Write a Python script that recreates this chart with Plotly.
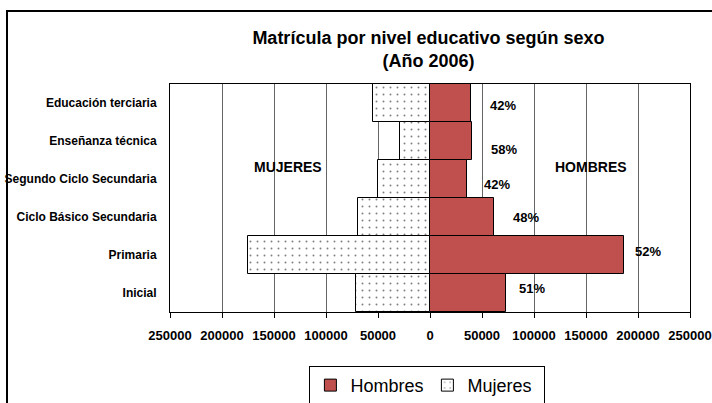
import plotly.graph_objects as go

# ---- data ----
categories = ["Educación terciaria", "Enseñanza técnica", "Segundo Ciclo Secundaria",
              "Ciclo Básico Secundaria", "Primaria", "Inicial"]
hombres = [39000, 40000, 36000, 62000, 187000, 73500]
mujeres = [55000, 29000, 50000, 69000, 175000, 71000]
pct_labels = ["42%", "58%", "42%", "48%", "52%", "51%"]
tick_values = [-250000, -200000, -150000, -100000, -50000, 0, 50000, 100000, 150000, 200000, 250000]
tick_labels = ["250000", "200000", "150000", "100000", "50000", "0",
               "50000", "100000", "150000", "200000", "250000"]

# label styling offsets (pixels)
pct_xshift = [17, 17, 15, 17, 9, 11]
pct_yshift = [-2, -8, -5, 0, 4, 5]

FONT = "Liberation Sans, Arial, sans-serif"
RED = "#C0504D"

fig = go.Figure()
fig.add_trace(go.Bar(
    y=categories, x=hombres, orientation="h", name="Hombres",
    marker=dict(color=RED, line=dict(color="black", width=1)),
))
fig.add_trace(go.Bar(
    y=categories, x=[-v for v in mujeres], orientation="h", name="Mujeres",
    marker=dict(color="white", line=dict(color="black", width=1),
                pattern=dict(shape=".", fgcolor="black", bgcolor="white",
                             size=7, solidity=0.06, fillmode="overlay")),
))

annotations = []
for cat, h, lab, dx, dy in zip(categories, hombres, pct_labels, pct_xshift, pct_yshift):
    annotations.append(dict(x=h, y=cat, xref="x", yref="y", text=lab, showarrow=False,
                            xanchor="left", yanchor="middle", xshift=dx, yshift=dy,
                            font=dict(family=FONT, size=13, color="black", weight="bold")))
annotations.append(dict(x=-137000, y=0.636, xref="x", yref="paper", text="MUJERES",
                        showarrow=False, font=dict(family=FONT, size=14, color="black", weight="bold")))
annotations.append(dict(x=154500, y=0.636, xref="x", yref="paper", text="HOMBRES",
                        showarrow=False, font=dict(family=FONT, size=14, color="black", weight="bold")))

fig.update_layout(
    width=712, height=403,
    margin=dict(l=170, r=22, t=84, b=91, autoexpand=False),
    paper_bgcolor="white", plot_bgcolor="white",
    barmode="relative", bargap=0,
    font=dict(family=FONT, color="black"),
    title=dict(text="Matrícula por nivel educativo según sexo<br>(Año 2006)",
               x=0.497, xref="paper", xanchor="center",
               y=1 - 43.5 / 403, yref="container", yanchor="middle",
               font=dict(family=FONT, size=18, color="black", weight="bold")),
    xaxis=dict(range=[-250000, 250000], tickvals=tick_values, ticktext=tick_labels,
               automargin=False,
               showgrid=True, gridcolor="#666666", gridwidth=1, zeroline=False,
               showline=True, linecolor="black", linewidth=1, mirror=True,
               ticks="outside", ticklen=5, tickcolor="black", ticklabelstandoff=6,
               tickfont=dict(family=FONT, size=13, color="black", weight="bold")),
    yaxis=dict(type="category", autorange="reversed", showgrid=False, zeroline=False,
               automargin=False,
               showline=True, linecolor="black", linewidth=1, mirror=True,
               ticks="", ticklabelstandoff=10,
               tickfont=dict(family=FONT, size=12, color="black", weight="bold")),
    legend=dict(orientation="h", x=0.495, xanchor="center", y=-0.322, yanchor="middle",
                xref="paper", yref="paper",
                bgcolor="white", bordercolor="black", borderwidth=1,
                font=dict(family=FONT, size=18, color="black"),
                itemwidth=30, entrywidth=72, entrywidthmode="pixels",
                traceorder="normal"),
    annotations=annotations,
    shapes=[dict(type="rect", xref="paper", yref="paper",
                 x0=(7 - 170) / 520, x1=1.2, y0=-0.6, y1=(312 - 11) / 228,
                 line=dict(color="black", width=2), fillcolor="rgba(0,0,0,0)", layer="below")],
)

fig.write_html("out.html", config={"displayModeBar": False},
               post_script="document.body.style.margin='0';")
